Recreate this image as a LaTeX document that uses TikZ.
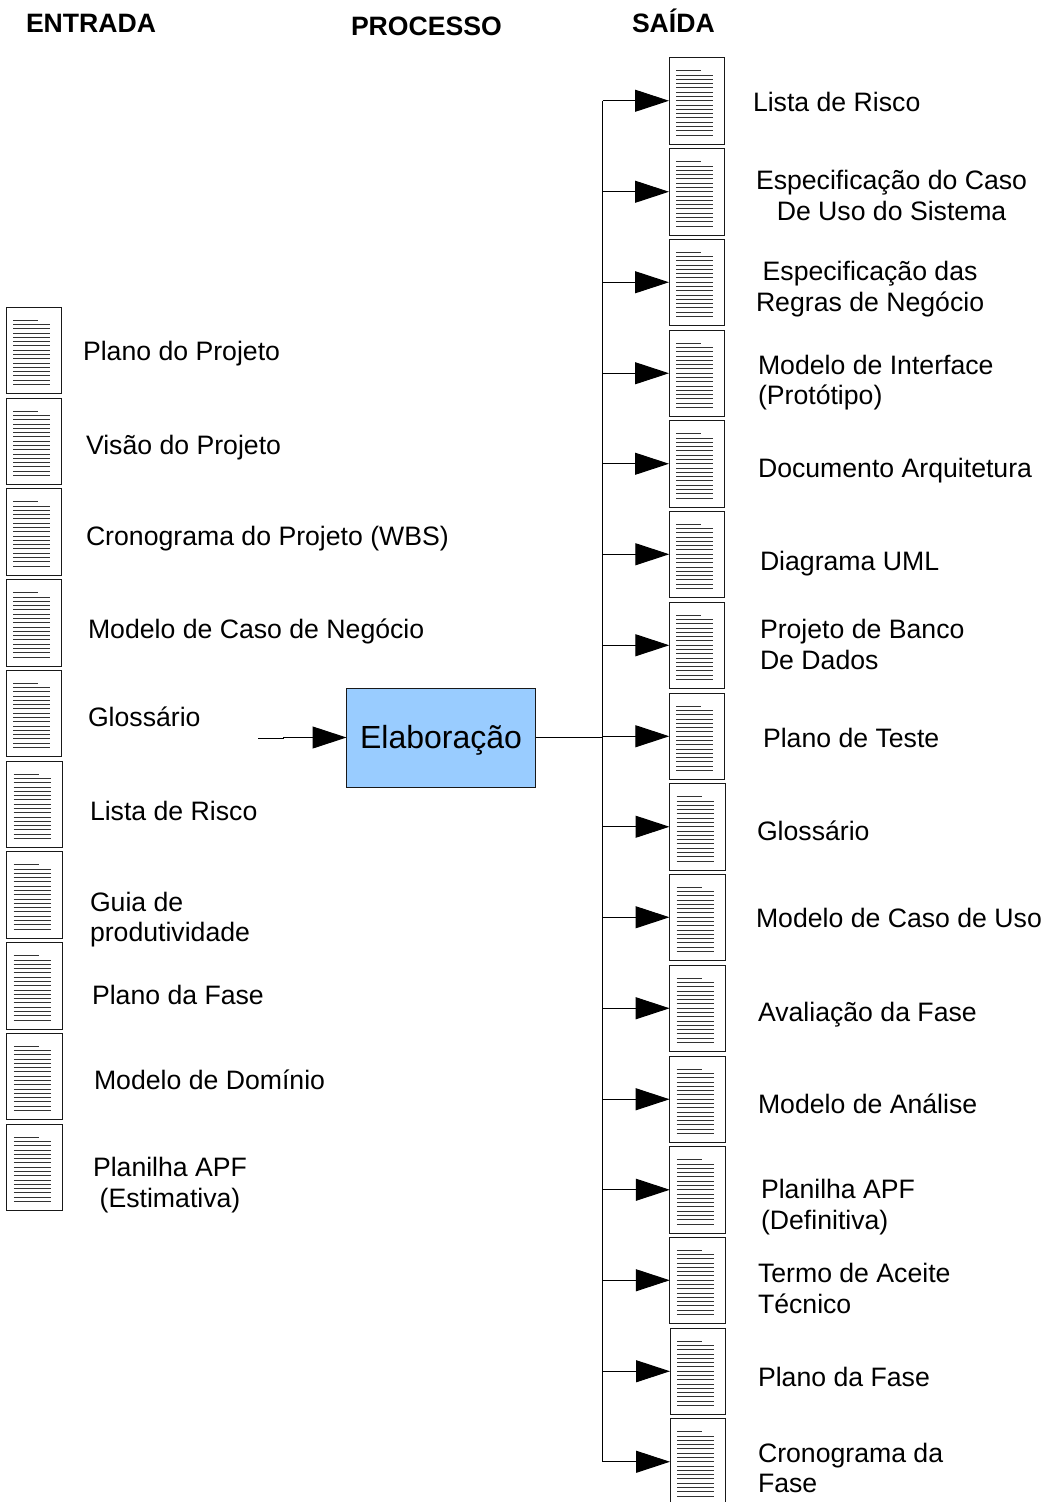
\documentclass[tikz,border=0pt]{standalone}
\usepackage{fontspec}
\setmainfont{Liberation Sans}
\usetikzlibrary{arrows.meta}
\tikzset{
  docbox/.style={draw=black!90,fill=white,line width=1pt,minimum width=55.5pt,minimum height=86.5pt,inner sep=0pt,outer sep=0pt},
  docline/.style={line width=1pt,draw=black!80},
  flow/.style={line width=1.05pt,draw=black},
  arrowed/.style={flow,-{Triangle[length=34pt,width=22pt,fill=black]}},
  procbox/.style={draw=black!90,fill=procblue,line width=1pt,minimum width=189pt,minimum height=99pt,inner sep=0pt,outer sep=0pt},
  lbl/.style={anchor=base west,inner sep=0pt,outer sep=0pt,font=\fontsize{26.65}{30.6}\selectfont,text=black},
  lblc/.style={lbl,align=center},
  lbll/.style={lbl,align=left},
  head/.style={lbl,font=\fontsize{26.6}{30.6}\selectfont\bfseries},
}
\definecolor{procblue}{HTML}{99CCFF}
\newcommand{\docrules}[1]{%
  \draw[docline] ([xshift=7pt,yshift=-13pt]#1.north west) -- ([xshift=32pt,yshift=-13pt]#1.north west);
  \foreach \k in {0,...,14}{
    \draw[docline] ([xshift=7pt,yshift=-17.5pt-4.29pt*\k]#1.north west) -- ([xshift=44pt,yshift=-17.5pt-4.29pt*\k]#1.north west);
  }%
}
\begin{document}
\begin{tikzpicture}[x=1pt,y=-1pt]
\useasboundingbox (0,0) rectangle (1045,1502);
\fill[white] (0,0) rectangle (1045,1502);
% headers
\node[head] (hin) at (26,32) {ENTRADA};
\node[head] (hproc) at (351,35) {PROCESSO};
\node[head] (hout) at (632,32) {SAÍDA};
% input documents
\foreach \n/\x/\t in {1/6/307,2/6/398,3/6/488.5,4/6.3/579.5,5/6.3/670,6/6.5/761,7/6.5/851.5,8/6.7/942.5,9/6.9/1033,10/6.9/1124}{
  \node[docbox,anchor=north west] (l\n) at (\x,\t) {};
  \docrules{l\n}
}
% output documents
\foreach \n/\x/\t in {1/669/57.5,2/669/148.5,3/669/239,4/669/330,5/669/420.5,6/669.3/511,7/669.3/602,8/669.3/693,9/669.5/783.5,10/669.5/874,11/669.6/965,12/669.6/1056,13/669.8/1146.5,14/669.8/1237,15/670/1328,16/670/1418.5}{
  \node[docbox,anchor=north west] (r\n) at (\x,\t) {};
  \docrules{r\n}
}
% process
\node[procbox,anchor=north west,font=\fontsize{32}{36}\selectfont,text=black] (proc) at (346.5,688) {\raisebox{-11pt}[0pt][0pt]{Elaboração}};
\coordinate (instart) at (258,738.5);
\coordinate (injog) at (283,738.5);
\coordinate (trunktop) at (602.7,101);
\draw[flow] (instart) -- (injog) -- (injog |- proc.west);
\draw[arrowed] (injog |- proc.west) -- (proc.west);
\draw[flow] (proc.east) -- (trunktop |- proc.east);
\draw[flow] (trunktop |- r1.west) -- (trunktop |- r16.west);
\foreach \n in {1,...,16}{
  \draw[arrowed] (trunktop |- r\n.west) -- (r\n.west);
}
% input labels
\node[lbl] (a1) at (83,360) {Plano do Projeto};
\node[lbl] (a2) at (86,454) {Visão do Projeto};
\node[lbl] (a3) at (86,545) {Cronograma do Projeto (WBS)};
\node[lbl] (a4) at (88,638) {Modelo de Caso de Negócio};
\node[lbl] (a5) at (88,726) {Glossário};
\node[lbl] (a6) at (90,820) {Lista de Risco};
\node[lbll] (a7) at (90,941) {Guia de\\[-0.7pt]produtividade};
\node[lbl] (a8) at (92,1004) {Plano da Fase};
\node[lbl] (a9) at (94,1089) {Modelo de Domínio};
\node[lblc] (a10) at (93,1207) {Planilha APF\\(Estimativa)};
% output labels
\node[lbl] (b1) at (753,111) {Lista de Risco};
\node[lblc] (b2) at (756,220) {Especificação do Caso\\De Uso do Sistema};
\node[lblc] (b3) at (756,311) {Especificação das\\Regras de Negócio};
\node[lbll] (b4) at (758,404) {Modelo de Interface\\[-0.7pt](Protótipo)};
\node[lbl] (b5) at (758,477) {Documento Arquitetura};
\node[lbl] (b6) at (760,570) {Diagrama UML};
\node[lbll] (b7) at (760,669) {Projeto de Banco\\De Dados};
\node[lbl] (b8) at (763,747) {Plano de Teste};
\node[lbl] (b9) at (757,840) {Glossário};
\node[lbl] (b10) at (756,927) {Modelo de Caso de Uso};
\node[lbl] (b11) at (758,1021) {Avaliação da Fase};
\node[lbl] (b12) at (758,1113) {Modelo de Análise};
\node[lbll] (b13) at (761,1229) {Planilha APF\\(Definitiva)};
\node[lbll] (b14) at (758,1313) {Termo de Aceite\\Técnico};
\node[lbl] (b15) at (758,1386) {Plano da Fase};
\node[lbll] (b16) at (758,1492) {Cronograma da\\[-0.7pt]Fase};
\end{tikzpicture}
\end{document}
